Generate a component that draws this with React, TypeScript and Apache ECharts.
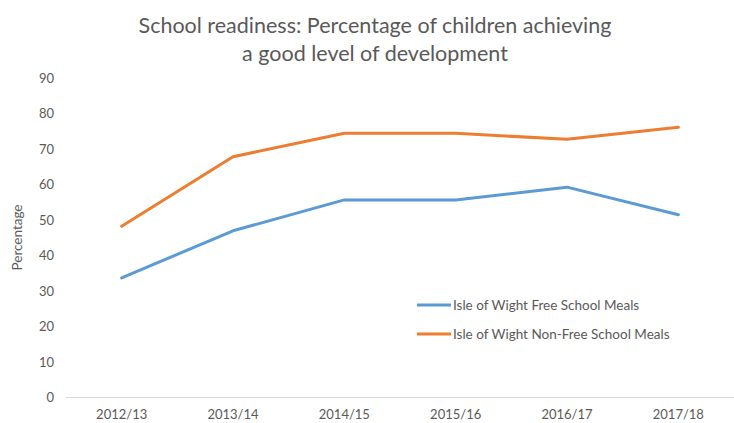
import React, { useEffect, useRef } from "react";
import * as echarts from "echarts";

const categories = ["2012/13", "2013/14", "2014/15", "2015/16", "2016/17", "2017/18"];
const freeSchoolMeals = [33.6, 46.9, 55.6, 55.6, 59.2, 51.4];
const nonFreeSchoolMeals = [48.2, 67.8, 74.4, 74.4, 72.7, 76.1];
const seriesNames = ["Isle of Wight Free School Meals", "Isle of Wight Non-Free School Meals"];
const titleText = "School readiness: Percentage of children achieving\na good level of development";

export default function App() {
  const ref = useRef<HTMLDivElement>(null);
  useEffect(() => {
    if (!ref.current) return;
    const chart = echarts.init(ref.current, null, { renderer: "svg" });
    const font = "Lato, 'Open Sans', sans-serif";
    chart.setOption({
      animation: false,
      backgroundColor: "#ffffff",
      title: {
        text: titleText,
        left: 370,
        top: 6,
        textAlign: "center",
        textStyle: { color: "#595959", fontSize: 21.5, fontWeight: "normal", fontFamily: font, lineHeight: 28 },
      },
      legend: {
        orient: "vertical",
        left: 412,
        top: 293,
        itemWidth: 34,
        itemHeight: 3,
        itemGap: 15,
        icon: "rect",
        textStyle: { color: "#595959", fontSize: 13.5, fontFamily: font, padding: [0, 0, 0, -3] },
        data: seriesNames,
      },
      grid: { left: 66, right: 0, top: 78, bottom: 26, containLabel: false },
      xAxis: {
        type: "category",
        data: categories,
        boundaryGap: true,
        axisLine: { lineStyle: { color: "#d9d9d9", width: 1 } },
        axisTick: { show: false },
        axisLabel: { color: "#595959", fontSize: 13, fontFamily: font, margin: 10 },
      },
      yAxis: {
        type: "value",
        min: 0,
        max: 90,
        interval: 10,
        name: "Percentage",
        nameLocation: "middle",
        nameGap: 42,
        nameTextStyle: { color: "#595959", fontSize: 13.5, fontFamily: font },
        axisLine: { show: false },
        axisTick: { show: false },
        splitLine: { show: false },
        axisLabel: { color: "#595959", fontSize: 13, fontFamily: font, margin: 12 },
      },
      series: [
        {
          name: seriesNames[0],
          type: "line",
          data: freeSchoolMeals,
          showSymbol: false,
          symbol: "none",
          lineStyle: { color: "#5B9BD5", width: 3, cap: "round", join: "round" },
          itemStyle: { color: "#5B9BD5" },
        },
        {
          name: seriesNames[1],
          type: "line",
          data: nonFreeSchoolMeals,
          showSymbol: false,
          symbol: "none",
          lineStyle: { color: "#ED7D31", width: 3, cap: "round", join: "round" },
          itemStyle: { color: "#ED7D31" },
        },
      ],
    });
    return () => chart.dispose();
  }, []);
  return <div ref={ref} style={{ width: 734, height: 423, position: "absolute", left: 0, top: 0 }} />;
}
